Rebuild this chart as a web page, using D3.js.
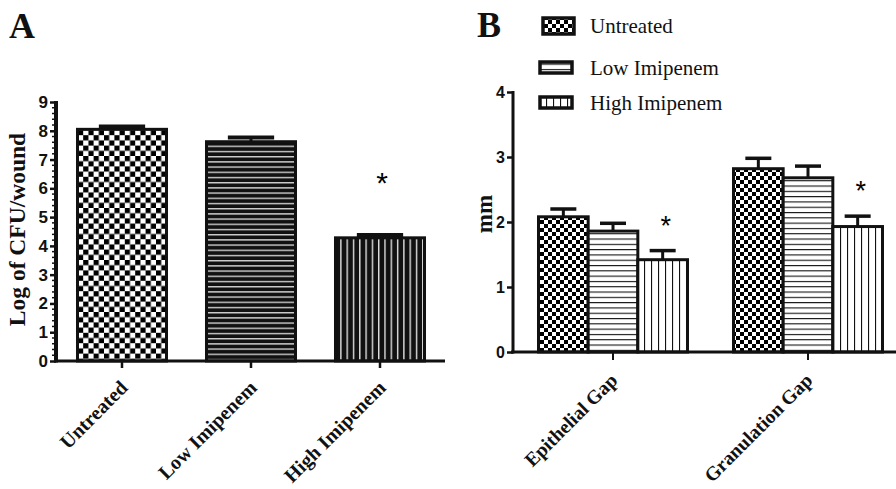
<!DOCTYPE html>
<html><head><meta charset="utf-8">
<script src="https://cdn.jsdelivr.net/npm/d3@7"></script>
<style>body{margin:0;background:#fff}svg{display:block}</style>
</head><body>
<svg id="c" width="896" height="489"></svg>
<script>
// ---------- data ----------
const catsA = ["Untreated", "Low Imipenem", "High Imipenem"];
const valsA = [8.05, 7.62, 4.28];
const errA = [0.10, 0.15, 0.10];
const sigA = [false, false, true];
const ticksA = [0, 1, 2, 3, 4, 5, 6, 7, 8, 9];

const groupsB = ["Epithelial Gap", "Granulation Gap"];
const seriesB = ["Untreated", "Low Imipenem", "High Imipenem"];
const untreatedB = [2.08, 2.82];
const lowB = [1.86, 2.68];
const highB = [1.42, 1.93];
const untreatedErrB = [0.12, 0.16];
const lowErrB = [0.12, 0.18];
const highErrB = [0.14, 0.16];
const sigB = [false, false, true];
const ticksB = [0, 1, 2, 3, 4];

// ---------- setup ----------
const svg = d3.select("#c");
const defs = svg.append("defs");
const serif = "'Liberation Serif','Times New Roman',serif";
const sans = "'Liberation Sans',Arial,sans-serif";

function checker(id, s) {
  const p = defs.append("pattern").attr("id", id).attr("patternUnits", "userSpaceOnUse")
    .attr("width", 2 * s).attr("height", 2 * s);
  p.append("rect").attr("width", 2 * s).attr("height", 2 * s).attr("fill", "#fff");
  p.append("rect").attr("width", s).attr("height", s).attr("fill", "#000");
  p.append("rect").attr("x", s).attr("y", s).attr("width", s).attr("height", s).attr("fill", "#000");
}
function hlines(id, sp, bg, fg, lw) {
  const p = defs.append("pattern").attr("id", id).attr("patternUnits", "userSpaceOnUse")
    .attr("width", 10).attr("height", sp);
  p.append("rect").attr("width", 10).attr("height", sp).attr("fill", bg);
  p.append("rect").attr("y", 0).attr("width", 10).attr("height", lw).attr("fill", fg);
}
function vlines(id, sp, bg, fg, lw) {
  const p = defs.append("pattern").attr("id", id).attr("patternUnits", "userSpaceOnUse")
    .attr("width", sp).attr("height", 10);
  p.append("rect").attr("width", sp).attr("height", 10).attr("fill", bg);
  p.append("rect").attr("x", 0).attr("width", lw).attr("height", 10).attr("fill", fg);
}
checker("chkA", 5.2);
hlines("hA", 5.2, "#111", "#d0d0d0", 1.4);
vlines("vA", 6.3, "#111", "#e0e0e0", 1.4);
checker("chkB", 4);
hlines("hB", 5.3, "#fff", "#111", 1.1);
vlines("vB", 7, "#fff", "#111", 1.1);
checker("chkL", 4);
const fillsA = ["url(#chkA)", "url(#hA)", "url(#vA)"];
const fillsB = ["url(#chkB)", "url(#hB)", "url(#vB)"];

// ---------- Panel A ----------
const xA = d3.scaleBand().domain(catsA).range([57.5, 444.5]).paddingInner(0.31).paddingOuter(0.155);
const yA = d3.scaleLinear().domain([0, 9]).range([361, 102]);
const gA = svg.append("g");

gA.selectAll("rect.bar").data(catsA).join("rect")
  .attr("x", d => xA(d)).attr("width", xA.bandwidth())
  .attr("y", (d, i) => yA(valsA[i])).attr("height", (d, i) => yA(0) - yA(valsA[i]))
  .attr("fill", (d, i) => fillsA[i]).attr("stroke", "#111").attr("stroke-width", 3);

// error bars
catsA.forEach((c, i) => {
  const cx = xA(c) + xA.bandwidth() / 2, capW = xA.bandwidth() * 0.52;
  gA.append("line").attr("x1", cx).attr("x2", cx).attr("y1", yA(valsA[i])).attr("y2", yA(valsA[i] + errA[i]))
    .attr("stroke", "#111").attr("stroke-width", 3);
  gA.append("line").attr("x1", cx - capW / 2).attr("x2", cx + capW / 2)
    .attr("y1", yA(valsA[i] + errA[i])).attr("y2", yA(valsA[i] + errA[i]))
    .attr("stroke", "#111").attr("stroke-width", 4);
  if (sigA[i]) gA.append("text").attr("x", cx + 2).attr("y", yA(valsA[i] + errA[i]) - 42)
    .attr("text-anchor", "middle").attr("font-family", sans).attr("font-size", 30).text("*");
});

// y axis A
const axA = gA.append("g").attr("transform", "translate(56,0)")
  .call(d3.axisLeft(yA).tickValues(ticksA).tickFormat(d3.format("d")).tickSize(6).tickPadding(2));
axA.select(".domain").remove();
axA.selectAll(".tick line").attr("stroke", "#111").attr("stroke-width", 2.5);
axA.selectAll(".tick text").attr("font-family", sans).attr("font-weight", "bold").attr("font-size", 17).attr("fill", "#111");
const minorA = d3.range(0, 9.01, 0.2).filter(v => Math.abs(v - Math.round(v)) > 0.01);
axA.selectAll("line.minor").data(minorA).join("line").attr("class", "minor")
  .attr("x1", -4).attr("x2", 0).attr("y1", d => yA(d)).attr("y2", d => yA(d))
  .attr("stroke", "#111").attr("stroke-width", 1.5);
gA.append("line").attr("x1", 56).attr("x2", 56).attr("y1", yA(9) - 1).attr("y2", yA(0) + 1.5)
  .attr("stroke", "#111").attr("stroke-width", 4);
// x axis A
gA.append("line").attr("x1", 54).attr("x2", 445).attr("y1", yA(0)).attr("y2", yA(0))
  .attr("stroke", "#111").attr("stroke-width", 3);
const axAx = gA.append("g").attr("transform", `translate(0,${yA(0)})`)
  .call(d3.axisBottom(xA).tickSize(7).tickPadding(0));
axAx.select(".domain").remove();
axAx.selectAll(".tick line").attr("stroke", "#111").attr("stroke-width", 2.5);
axAx.selectAll(".tick text").attr("font-family", serif).attr("font-weight", "bold").attr("font-size", 20)
  .attr("fill", "#111").attr("text-anchor", "end").attr("dy", 0)
  .attr("transform", "translate(2,23) rotate(-45)");
// y label A
svg.append("text").attr("transform", `translate(25,${(yA(0) + yA(9)) / 2 - 2}) rotate(-90)`)
  .attr("text-anchor", "middle").attr("font-family", serif).attr("font-weight", "bold")
  .attr("font-size", 23.5).attr("fill", "#111").text("Log of CFU/wound");
svg.append("text").attr("x", 9).attr("y", 38).attr("font-family", serif).attr("font-weight", "bold")
  .attr("font-size", 36).attr("fill", "#111").text("A");

// ---------- Panel B ----------
const x0B = d3.scaleBand().domain(groupsB).range([515.5, 905.5]).paddingInner(0.236).paddingOuter(0.118);
const x1B = d3.scaleBand().domain(seriesB).range([0, x0B.bandwidth()]);
const yB = d3.scaleLinear().domain([0, 4]).range([352, 92]);
const gB = svg.append("g");
const valsB = [untreatedB, lowB, highB];
const errsB = [untreatedErrB, lowErrB, highErrB];

groupsB.forEach((g, gi) => {
  seriesB.forEach((s, si) => {
    const v = valsB[si][gi], e = errsB[si][gi];
    const bx = x0B(g) + x1B(s), bw = x1B.bandwidth(), cx = bx + bw / 2;
    gB.append("line").attr("x1", cx).attr("x2", cx).attr("y1", yB(v)).attr("y2", yB(v + e))
      .attr("stroke", "#111").attr("stroke-width", 3);
    gB.append("line").attr("x1", cx - 13).attr("x2", cx + 13).attr("y1", yB(v + e)).attr("y2", yB(v + e))
      .attr("stroke", "#111").attr("stroke-width", 3.5);
    gB.append("rect").attr("x", bx).attr("width", bw).attr("y", yB(v)).attr("height", yB(0) - yB(v))
      .attr("fill", fillsB[si]).attr("stroke", "#111").attr("stroke-width", 3);
    if (sigB[si]) gB.append("text").attr("x", cx + 3).attr("y", yB(v + e) - 16)
      .attr("text-anchor", "middle").attr("font-family", sans).attr("font-size", 27).text("*");
  });
});

const axB = gB.append("g").attr("transform", "translate(513,0)")
  .call(d3.axisLeft(yB).tickValues(ticksB).tickFormat(d3.format("d")).tickSize(6).tickPadding(2));
axB.select(".domain").remove();
axB.selectAll(".tick line").attr("stroke", "#111").attr("stroke-width", 2.5);
axB.selectAll(".tick text").attr("font-family", sans).attr("font-weight", "bold").attr("font-size", 16).attr("fill", "#111");
gB.append("line").attr("x1", 513).attr("x2", 513).attr("y1", yB(4) - 1).attr("y2", yB(0) + 1.5)
  .attr("stroke", "#111").attr("stroke-width", 3);
gB.append("line").attr("x1", 511).attr("x2", 896).attr("y1", yB(0)).attr("y2", yB(0))
  .attr("stroke", "#111").attr("stroke-width", 3);
const axBx = gB.append("g").attr("transform", `translate(0,${yB(0)})`)
  .call(d3.axisBottom(x0B).tickSize(8).tickPadding(0));
axBx.select(".domain").remove();
axBx.selectAll(".tick line").attr("stroke", "#111").attr("stroke-width", 2);
axBx.selectAll(".tick text").attr("font-family", serif).attr("font-weight", "bold").attr("font-size", 19.5)
  .attr("fill", "#111").attr("text-anchor", "end").attr("dy", 0)
  .attr("transform", "translate(0,24) rotate(-45)");
svg.append("text").attr("transform", `translate(492,${(yB(0) + yB(4)) / 2 - 8}) rotate(-90)`)
  .attr("text-anchor", "middle").attr("font-family", serif).attr("font-weight", "bold")
  .attr("font-size", 23).attr("fill", "#111").text("mm");
svg.append("text").attr("x", 477).attr("y", 37).attr("font-family", serif).attr("font-weight", "bold")
  .attr("font-size", 36).attr("fill", "#111").text("B");

// legend
const legRows = [{x: 543, y: 18, w: 31, h: 16}, {x: 540, y: 62, w: 32, h: 11}, {x: 540, y: 97, w: 32, h: 11}];
const legFills = ["url(#chkL)", "url(#hB)", "url(#vB)"];
const leg = svg.append("g");
seriesB.forEach((s, i) => {
  const r = legRows[i];
  leg.append("rect").attr("x", r.x).attr("y", r.y).attr("width", r.w).attr("height", r.h)
    .attr("fill", legFills[i]).attr("stroke", "#111").attr("stroke-width", 3.5);
  leg.append("text").attr("x", 590).attr("y", r.y + r.h / 2 + 7).attr("font-family", serif)
    .attr("font-size", 21).attr("fill", "#111").text(s);
});
</script>
</body></html>
